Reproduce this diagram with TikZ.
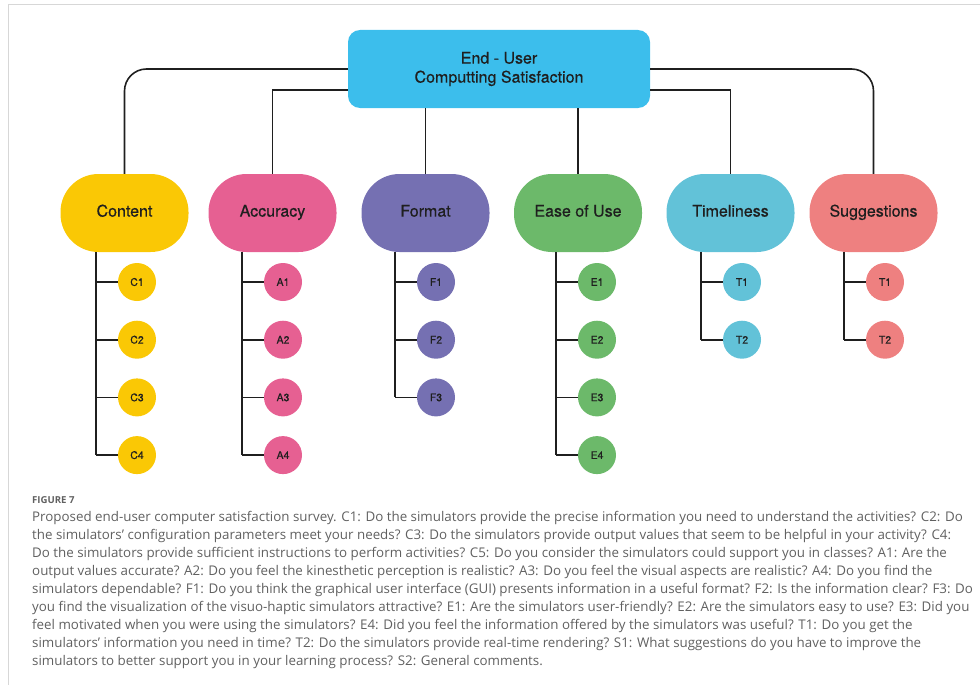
\documentclass[tikz,border=0pt]{standalone}
\usepackage{fontspec}
\setmainfont{TeX Gyre Heros}[FakeBold=0.45]
\newfontfamily\capfont{Open Sans}
\usepackage{tikz}
\usetikzlibrary{positioning, calc}
\definecolor{cSky}{RGB}{60,190,236}
\definecolor{cYellow}{RGB}{250,200,5}
\definecolor{cPink}{RGB}{230,96,146}
\definecolor{cPurple}{RGB}{117,112,178}
\definecolor{cGreen}{RGB}{108,185,106}
\definecolor{cTeal}{RGB}{98,194,216}
\definecolor{cSalmon}{RGB}{238,128,128}
\definecolor{cFrame}{RGB}{215,215,215}
\definecolor{cText}{RGB}{96,96,96}
\tikzset{
	rootbox/.style={rectangle, rounded corners=12pt, minimum width=302pt, minimum height=78pt, align=center, fill=cSky, text=black!88, font=\fontsize{16}{19}\selectfont},
	catbox/.style ={rectangle, rounded corners=38pt, minimum width=128pt, minimum height=78pt, text height=0.72em, text depth=0pt, text=black!88, font=\fontsize{16}{19}\selectfont},
	item/.style   ={circle, minimum size=38pt, inner sep=0pt, text=black!88, font=\fontsize{10.5}{12}\selectfont},
	wire/.style   ={line width=1.6pt, black!88},
	% caption styles
	capbox/.style ={inner sep=0pt, align=left, text=cText, font=\capfont\fontsize{13.35}{18}\selectfont},
}
\begin{document}
\begin{tikzpicture}[x=1pt, y=-1pt]
	\useasboundingbox (0,0) rectangle (980,685);
	\draw[cFrame, line width=1pt] (8,685) -- (8,5) -- (980,5);
	\node[rootbox] (root) at (499,69) {End - User\\Computting Satisfaction};
	\foreach \n/\t/\x/\s/\c/\l/\m in {
		content/{Content}/124.5/137/cYellow/C/4,
		accuracy/{Accuracy}/272.5/283/cPink/A/4,
		format/{Format}/425.5/436/cPurple/F/3,
		ease/{Ease of Use}/578/597/cGreen/E/4,
		time/{Timeliness}/730.5/742/cTeal/T/2,
		sugg/{Suggestions}/873.5/885/cSalmon/T/2} {
		\node[catbox, fill=\c] (\n) at (\x,213) {\t};
		\coordinate (\n-sp) at ($(\n.south)+({\s-41-\x},0)$);
		\foreach \k in {1,...,\m} {
			\node[item, fill=\c] (\n\k) at (\s,{224.3+57.7*\k}) {\l\k};
			\draw[wire] (\n-sp |- \n\k.west) -- (\n\k.west);
		}
		\draw[wire] (\n-sp) -- (\n-sp |- \n\m.west);
	}
	\draw[wire, rounded corners=22pt] (root.west) -| (content.north);
	\draw[wire, rounded corners=22pt] (root.east) -| (sugg.north);
	\draw[wire] ([yshift=-21pt]root.west) -| (accuracy.north);
	\draw[wire] ([yshift=-21pt]root.east) -| (time.north);
	\draw[wire] (root.south -| format.north) -- (format.north);
	\draw[wire] (root.south -| ease.north) -- (ease.north);
	\node[anchor=west, inner sep=0pt, text=cText, font=\capfont\bfseries\fontsize{9.6}{10}\selectfont] (fig) at (32,500) {FIGURE 7};
	\node[capbox, anchor=north west] (cap) at (32,511.5) {Proposed end-user computer satisfaction survey. C1: Do the simulators provide the precise information you need to understand the activities? C2: Do\\
the simulators’ configuration parameters meet your needs? C3: Do the simulators provide output values that seem to be helpful in your activity? C4:\\
Do the simulators provide sufficient instructions to perform activities? C5: Do you consider the simulators could support you in classes? A1: Are the\\
output values accurate? A2: Do you feel the kinesthetic perception is realistic? A3: Do you feel the visual aspects are realistic? A4: Do you find the\\
simulators dependable? F1: Do you think the graphical user interface (GUI) presents information in a useful format? F2: Is the information clear? F3: Do\\
you find the visualization of the visuo-haptic simulators attractive? E1: Are the simulators user-friendly? E2: Are the simulators easy to use? E3: Did you\\
feel motivated when you were using the simulators? E4: Did you feel the information offered by the simulators was useful? T1: Do you get the\\
simulators’ information you need in time? T2: Do the simulators provide real-time rendering? S1: What suggestions do you have to improve the\\
simulators to better support you in your learning process? S2: General comments.};
\end{tikzpicture}
\end{document}
